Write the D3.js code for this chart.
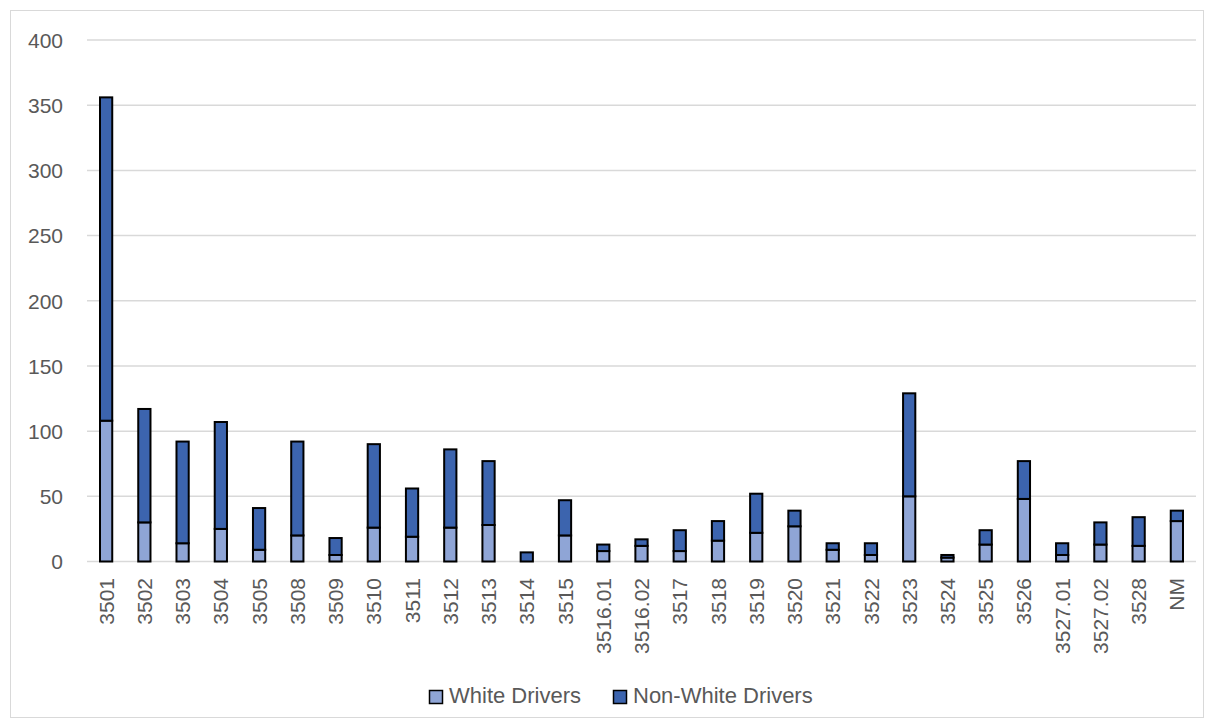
<!DOCTYPE html>
<html><head><meta charset="utf-8">
<script src="https://cdn.jsdelivr.net/npm/d3@7"></script>
<style>
html,body{margin:0;padding:0;background:#fff;}
svg text{font-family:"Liberation Sans",Arial,sans-serif;fill:#595959;}
</style></head>
<body><svg id="c" width="1214" height="728"></svg>
<script>
const categories = ["3501","3502","3503","3504","3505","3508","3509","3510","3511","3512","3513","3514","3515","3516.01","3516.02","3517","3518","3519","3520","3521","3522","3523","3524","3525","3526","3527.01","3527.02","3528","NM"];
const totals = [356,117,92,107,41,92,18,90,56,86,77,7,47,13,17,24,31,52,39,14,14,129,5,24,77,14,30,34,39];
const whiteDrivers = [108,30,14,25,9,20,5,26,19,26,28,0,20,8,12,8,16,22,27,9,5,50,3,13,48,5,13,12,31];
const nonWhiteDrivers = totals.map((t,i)=>t-whiteDrivers[i]);
const yTicks = [0,50,100,150,200,250,300,350,400];
const seriesNames = ["White Drivers","Non-White Drivers"];
const colors = ["#8FA5D6","#3C64AE"];

const svg = d3.select("#c");
svg.append("rect").attr("x",10.5).attr("y",10.5).attr("width",1193).attr("height",707)
  .attr("fill","#fff").attr("stroke","#d9d9d9").attr("stroke-width",1);

const x = d3.scaleBand().domain(categories).range([87,1196]).paddingInner(0.68).paddingOuter(0.34);
const y = d3.scaleLinear().domain([0,400]).range([561.5,40]);

const g = svg.append("g");
g.selectAll("line.grid").data(yTicks).join("line")
  .attr("x1",87).attr("x2",1196).attr("y1",d=>y(d)).attr("y2",d=>y(d))
  .attr("stroke","#d9d9d9").attr("stroke-width",1.5);

const yAxis = d3.axisLeft(y).tickValues(yTicks).tickSize(0).tickPadding(0);
const ya = svg.append("g").attr("transform","translate(63,0)").call(yAxis);
ya.select(".domain").remove();
ya.selectAll("text").attr("font-size","21px").attr("fill","#595959").attr("dy","0.35em")
  .style("font-family","Liberation Sans, Arial, sans-serif");

const rows = categories.map((c,i)=>({cat:c, "White Drivers":whiteDrivers[i], "Non-White Drivers":nonWhiteDrivers[i]}));
const stack = d3.stack().keys(seriesNames)(rows);
svg.append("g").selectAll("g").data(stack).join("g")
  .attr("fill",(d,i)=>colors[i])
  .selectAll("rect").data(d=>d).join("rect")
  .attr("x",d=>x(d.data.cat)).attr("width",x.bandwidth())
  .attr("y",d=>y(d[1])).attr("height",d=>Math.max(0,y(d[0])-y(d[1])))
  .attr("stroke","#000").attr("stroke-width",2);

const xAxis = d3.axisBottom(x).tickSize(0).tickPadding(0);
const xa = svg.append("g").attr("transform","translate(0,578)").call(xAxis);
xa.select(".domain").remove();
xa.selectAll("text").attr("font-size","21px").attr("fill","#595959")
  .style("font-family","Liberation Sans, Arial, sans-serif")
  .attr("text-anchor","end").attr("transform","rotate(-90)")
  .attr("x",0).attr("y",0).attr("dy","0.36em");

const legendX = [429,613];
const lg = svg.append("g").selectAll("g").data(seriesNames).join("g")
  .attr("transform",(d,i)=>`translate(${legendX[i]},690)`);
lg.append("rect").attr("x",0.5).attr("y",0.5).attr("width",13).attr("height",13)
  .attr("fill",(d,i)=>colors[i]).attr("stroke","#000").attr("stroke-width",1.5);
lg.append("text").attr("x",20).attr("y",13).attr("font-size","22px").text(d=>d);
</script></body></html>
